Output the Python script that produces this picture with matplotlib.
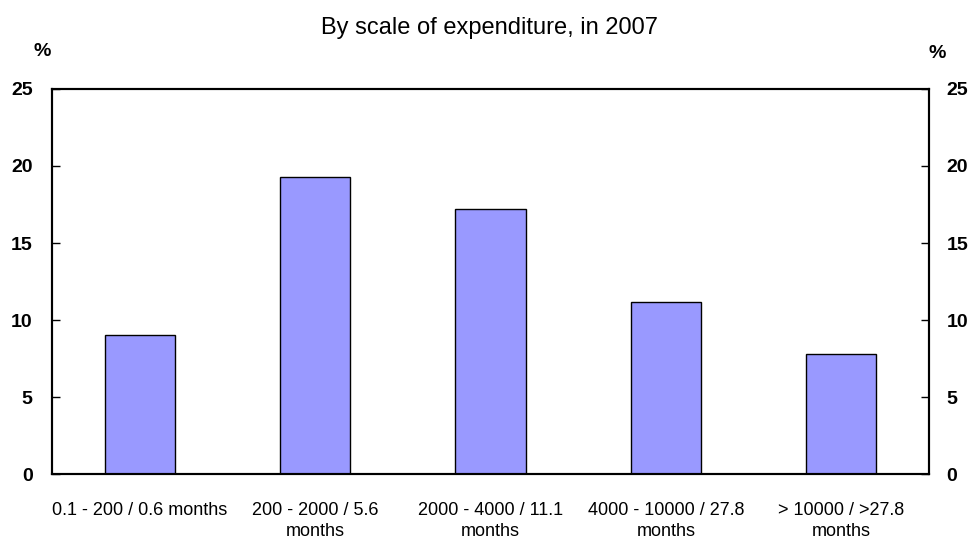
import matplotlib
matplotlib.use("Agg")
import matplotlib.pyplot as plt
from matplotlib import font_manager

categories = ["0.1 - 200 / 0.6 months", "200 - 2000 / 5.6\nmonths", "2000 - 4000 / 11.1\nmonths",
              "4000 - 10000 / 27.8\nmonths", "> 10000 / >27.8\nmonths"]
values = [9.0, 19.3, 17.2, 11.2, 7.8]
yticks = [0, 5, 10, 15, 20, 25]

names = {f.name for f in font_manager.fontManager.ttflist}
narrow = "Liberation Sans Narrow" if "Liberation Sans Narrow" in names else "Liberation Sans"

fig = plt.figure(figsize=(9.69, 5.4), dpi=100)
ax = fig.add_axes([0.0537, 0.1222, 0.905, 0.713])
x = list(range(len(categories)))
ax.bar(x, values, width=0.4, color="#9999FF", edgecolor="black", linewidth=1.0, zorder=2)
ax.set_xlim(-0.5, 4.5)
ax.set_ylim(0, 25)
ax.set_yticks(yticks)
ax.tick_params(axis="y", direction="in", length=6, width=1, left=True, right=True,
               labelleft=True, labelright=False, pad=14)
ax.set_yticklabels([str(t) for t in yticks], fontfamily="Liberation Sans", fontweight="bold", fontsize=14)
ax2 = ax.twinx()
ax2.set_ylim(0, 25)
ax2.set_yticks(yticks)
ax2.set_yticklabels([str(t) for t in yticks], fontfamily="Liberation Sans", fontweight="bold", fontsize=14)
ax2.tick_params(axis="y", direction="in", length=6, width=1, pad=12.5)
ax.set_xticks(x)
ax.set_xticklabels(categories, fontfamily=narrow, fontsize=13, linespacing=1.35)
ax.tick_params(axis="x", length=0, pad=20)
for a in (ax, ax2):
    for s in a.spines.values():
        s.set_linewidth(1.5)

fig.text(0.505, 0.948, "By scale of expenditure, in 2007", ha="center", va="center",
         fontfamily="Liberation Sans", fontsize=17)
fig.text(0.044, 0.904, "%", ha="center", va="center", fontfamily="Liberation Sans", fontweight="bold", fontsize=14)
fig.text(0.967, 0.900, "%", ha="center", va="center", fontfamily="Liberation Sans", fontweight="bold", fontsize=14)

fig.savefig("out.png", dpi=100)
